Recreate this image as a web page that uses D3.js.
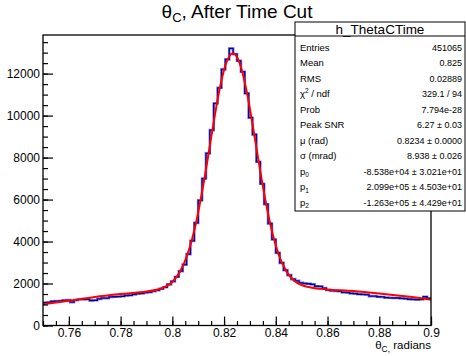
<!DOCTYPE html>
<html>
<head>
<meta charset="utf-8">
<script src="https://cdn.jsdelivr.net/npm/d3@7"></script>
<style>
  body { margin: 0; background: white; }
  text { font-family: "Liberation Sans", Arial, sans-serif; }
</style>
</head>
<body>
<script>
const width = 466;
const height = 356;

// histogram: 100 bins from 0.75 to 0.9
const binLow = 0.75;
const binWidth = 0.0015;
const counts = [
  1090, 1100, 1150, 1160, 1170, 1200, 1210, 1110, 1210, 1240,
  1240, 1250, 1190, 1200, 1270, 1300, 1300, 1360, 1370, 1380,
  1390, 1430, 1440, 1480, 1520, 1530, 1570, 1590, 1640, 1680,
  1750, 1820, 1960, 2100, 2320, 2590, 2900, 3400, 4030, 4890,
  5960, 7000, 8200, 9310, 10580, 11325, 12200, 12680, 13200, 12930,
  12610, 12090, 11060, 9900, 9100, 7800, 6750, 5780, 4860, 4100,
  3460, 2985, 2640, 2400, 2210, 2130, 2030, 2000, 1990, 1960,
  1870, 1860, 1780, 1690, 1660, 1650, 1630, 1580, 1570, 1530,
  1520, 1490, 1480, 1470, 1400, 1400, 1370, 1360, 1330, 1320,
  1310, 1310, 1290, 1280, 1250, 1240, 1230, 1240, 1370, 1290
];

// fit curve
const fitX = [0.750, 0.760, 0.770, 0.780, 0.790, 0.795, 0.800, 0.803, 0.806, 0.809,
              0.812, 0.815, 0.818, 0.8205, 0.8234, 0.826, 0.829, 0.832, 0.835, 0.838,
              0.841, 0.844, 0.847, 0.850, 0.855, 0.860, 0.870, 0.880, 0.890, 0.900];
const fitY = [1010, 1180, 1360, 1500, 1620, 1740, 2070, 2570, 3440, 4800,
              6710, 8940, 11090, 12390, 12970, 12510, 10990, 8840, 6630, 4760,
              3420, 2600, 2140, 1920, 1780, 1720, 1640, 1525, 1390, 1230];

const xTicks = [0.76, 0.78, 0.8, 0.82, 0.84, 0.86, 0.88, 0.9];
const xTickLabels = ["0.76", "0.78", "0.8", "0.82", "0.84", "0.86", "0.88", "0.9"];
const yTicks = [0, 2000, 4000, 6000, 8000, 10000, 12000];

const statNames = ["Entries", "Mean", "RMS", "χ2 / ndf", "Prob", "Peak SNR", "μ (rad)", "σ (mrad)", "p0", "p1", "p2"];
const statValues = ["451065", "0.825", "0.02889", "329.1 / 94", "7.794e-28", "6.27 ± 0.03",
                    "0.8234 ± 0.0000", "8.938 ± 0.026", "-8.538e+04 ± 3.021e+01",
                    "2.099e+05 ± 4.503e+01", "-1.263e+05 ± 4.429e+01"];

const svg = d3.select("body").append("svg")
    .attr("width", width)
    .attr("height", height);

const padL = 43, padR = 431, padT = 35, padB = 325.5;

const x = d3.scaleLinear().domain([0.75, 0.9]).range([padL, padR]);
const y = d3.scaleLinear().domain([0, 13840]).range([padB, padT]);

// histogram as steps
const stepData = counts.map((c, i) => [binLow + i * binWidth, c]);
stepData.push([binLow + counts.length * binWidth, counts[counts.length - 1]]);
const stepLine = d3.line()
    .x(d => x(d[0]))
    .y(d => y(d[1]))
    .curve(d3.curveStepAfter);

svg.append("path")
    .datum(stepData)
    .attr("d", stepLine)
    .attr("fill", "none")
    .attr("stroke", "#7f7fe0")
    .attr("stroke-width", 2.6);
svg.append("path")
    .datum(stepData)
    .attr("d", stepLine)
    .attr("fill", "none")
    .attr("stroke", "#000099")
    .attr("stroke-width", 1.3);

// fit
const fitLine = d3.line()
    .x((d, i) => x(fitX[i]))
    .y(d => y(d))
    .curve(d3.curveMonotoneX);
svg.append("path")
    .datum(fitY)
    .attr("d", fitLine)
    .attr("fill", "none")
    .attr("stroke", "#ff0000")
    .attr("stroke-width", 2);

// frame
svg.append("rect")
    .attr("x", padL).attr("y", padT)
    .attr("width", padR - padL).attr("height", padB - padT)
    .attr("fill", "none").attr("stroke", "black").attr("stroke-width", 1.3);

// x axis
const xAxis = svg.append("g").attr("transform", `translate(0,${padB})`);
xAxis.append("g").call(d3.axisBottom(x).tickValues(d3.range(0.75, 0.9001, 0.005)).tickSize(-4.5).tickFormat(""));
xAxis.append("g").call(d3.axisBottom(x).tickValues(xTicks).tickSize(-9).tickPadding(3)
    .tickFormat((d, i) => xTickLabels[i]));
xAxis.selectAll(".domain").remove();
xAxis.selectAll("line").attr("stroke", "black").attr("stroke-width", 1.2);
xAxis.selectAll("text").attr("font-size", 12).attr("fill", "black")
    .attr("font-family", "Liberation Sans, Arial, sans-serif");

// y axis
const yAxis = svg.append("g").attr("transform", `translate(${padL},0)`);
yAxis.append("g").call(d3.axisLeft(y).tickValues(d3.range(0, 13801, 500)).tickSize(-5).tickFormat(""));
yAxis.append("g").call(d3.axisLeft(y).tickValues(yTicks).tickSize(-10).tickPadding(3)
    .tickFormat(d3.format("d")));
yAxis.selectAll(".domain").remove();
yAxis.selectAll("line").attr("stroke", "black").attr("stroke-width", 1.2);
yAxis.selectAll("text").attr("font-size", 12).attr("fill", "black")
    .attr("font-family", "Liberation Sans, Arial, sans-serif");

// axis title
const xt = svg.append("text")
    .attr("x", padR).attr("y", 349)
    .attr("text-anchor", "end")
    .attr("font-size", 11.5);
xt.append("tspan").text("θ");
xt.append("tspan").attr("dy", 3).attr("font-size", 8.5).text("C,");
xt.append("tspan").attr("dy", -3).text(" radians");

// title
const title = svg.append("text")
    .attr("x", 237).attr("y", 18)
    .attr("text-anchor", "middle")
    .attr("font-size", 19);
title.append("tspan").text("θ");
title.append("tspan").attr("dy", 4).attr("font-size", 13).text("C");
title.append("tspan").attr("dy", -4).text(", After Time Cut");

// stats box
const bx = 295, by = 22, bw = 170, bh = 189;
const box = svg.append("g");
box.append("rect")
    .attr("x", bx).attr("y", by).attr("width", bw).attr("height", bh)
    .attr("fill", "white").attr("stroke", "black").attr("stroke-width", 1);
box.append("line")
    .attr("x1", bx).attr("x2", bx + bw).attr("y1", 36).attr("y2", 36)
    .attr("stroke", "black").attr("stroke-width", 1);
box.append("text")
    .attr("x", bx + bw / 2).attr("y", 34)
    .attr("text-anchor", "middle")
    .attr("font-size", 13.5)
    .text("h_ThetaCTime");

statNames.forEach((name, i) => {
    const ty = 50.5 + i * 15.5;
    const t = box.append("text").attr("x", 300).attr("y", ty).attr("font-size", 9.5);
    if (name === "χ2 / ndf") {
        t.append("tspan").text("χ");
        t.append("tspan").attr("dy", -4).attr("font-size", 6.5).text("2");
        t.append("tspan").attr("dy", 4).text(" / ndf");
    } else if (name[0] === "p") {
        t.append("tspan").text("p");
        t.append("tspan").attr("dy", 2.5).attr("font-size", 6.5).text(name[1]);
    } else {
        t.text(name);
    }
    box.append("text")
        .attr("x", 462).attr("y", ty)
        .attr("text-anchor", "end")
        .attr("font-size", 9)
        .text(statValues[i]);
});
</script>
</body>
</html>
